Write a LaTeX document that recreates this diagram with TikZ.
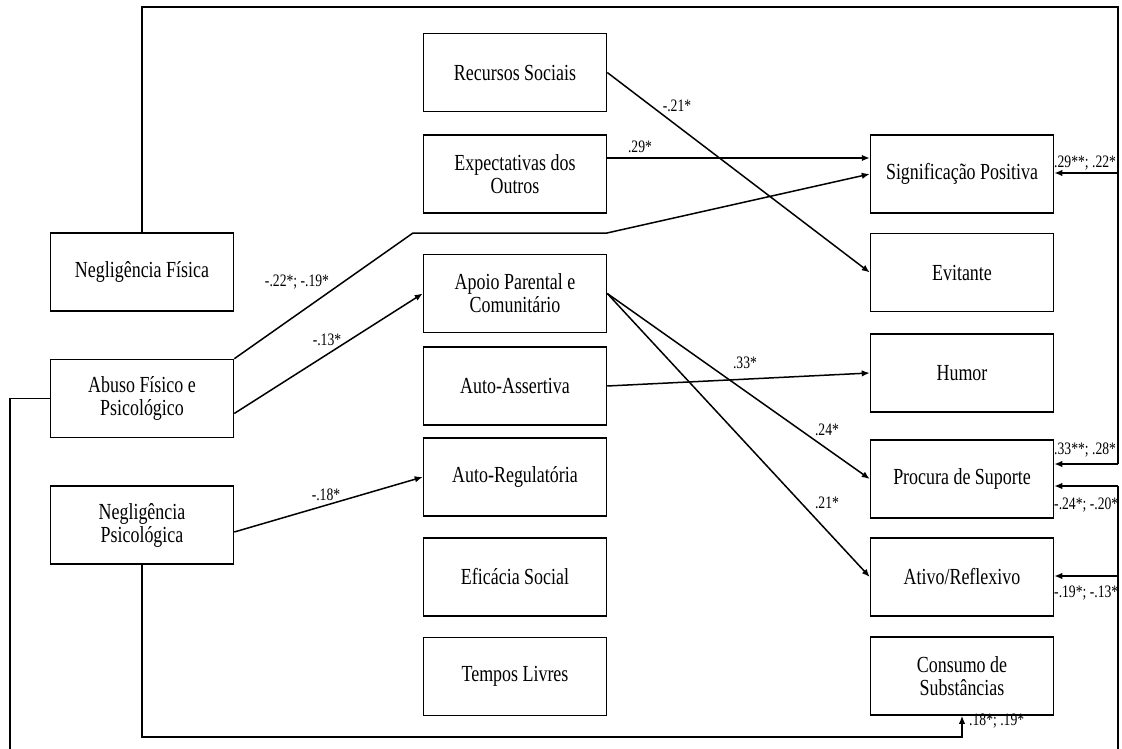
\documentclass[tikz,border=0pt]{standalone}
\usepackage{fontspec}
\setmainfont{Liberation Serif}[FakeStretch=0.78]
\usetikzlibrary{arrows.meta}
\begin{document}
\begin{tikzpicture}[x=1pt,y=-1pt,
 box/.style={draw, line width=1.5pt, minimum width=183pt, minimum height=78pt, inner sep=2pt, align=center, font=\fontsize{23}{23}\selectfont},
 lab/.style={inner sep=0pt, font=\fontsize{17.5}{19}\selectfont},
 con/.style={line width=1.5pt},
 arr/.style={con, -{Latex[length=8pt,width=6.5pt]}}]
\useasboundingbox (0,0) rectangle (1122,749);
\node[box] (NF) at (142,272) {Negligência Física};
\node[box] (AB) at (142,398.5) {Abuso Físico e\\Psicológico};
\node[box] (NP) at (142,525) {Negligência\\Psicológica};
\node[box] (RS) at (515,72.5) {Recursos Sociais};
\node[box] (EO) at (515,174) {Expectativas dos\\Outros};
\node[box] (AP) at (515,293.5) {Apoio Parental e\\Comunitário};
\node[box] (AA) at (515,386) {Auto-Assertiva};
\node[box] (AR) at (515,477) {Auto-Regulatória};
\node[box] (ES) at (515,577) {Eficácia Social};
\node[box] (TL) at (515,676.5) {Tempos Livres};
\node[box] (SP) at (962,174) {Significação Positiva};
\node[box] (EV) at (962,272.5) {Evitante};
\node[box] (HU) at (962,373) {Humor};
\node[box] (PS) at (962,479) {Procura de Suporte};
\node[box] (AT) at (962,577) {Ativo/Reflexivo};
\node[box] (CS) at (962,676) {Consumo de\\Substâncias};
% top loop from Negligencia Fisica
\coordinate (t2) at (1118,7);
\coordinate (t3) at (1118,464);
\coordinate (t4) at (1118,173);
\draw[con] (NF.north) |- (t2) -- (t3);
\draw[arr] (t3) -- (PS.east |- t3);
\draw[arr] (t4) -- (SP.east |- t4);
% loop from Abuso
\coordinate (b1) at (10,770);
\coordinate (b2) at (1118,770);
\coordinate (b3) at (1118,486);
\coordinate (b4) at (1118,576);
\draw[con] (AB.west) -| (b1) -- (b2) -- (b3);
\draw[arr] (b3) -- (PS.east |- b3);
\draw[arr] (b4) -- (AT.east |- b4);
% Negligencia Psicologica to Consumo
\coordinate (c1) at (142,737);
\draw[arr] (NP.south) -- (c1) -| (CS.south);
% direct arrows
\draw[arr] (RS.east) -- (EV.west);
\draw[arr] ([yshift=16pt]EO.east) -- ([yshift=16pt]SP.west);
\coordinate (d1) at (413,233);
\coordinate (d2) at (607,233);
\draw[arr] (AB.north east) -- (d1) -- (d2) -- (SP.west);
\draw[arr] ([yshift=-15pt]AB.east) -- (AP.west);
\draw[arr] (AP.east) -- (PS.west);
\draw[arr] (AP.east) -- (AT.west);
\draw[arr] (AA.east) -- (HU.west);
\draw[arr] ([yshift=-7pt]NP.east) -- (AR.west);
% labels
\node[lab] (l1) at (677,106) {-.21*};
\node[lab] (l2) at (640,147) {.29*};
\node[lab] (l3) at (297,282) {-.22*; -.19*};
\node[lab] (l4) at (327,340) {-.13*};
\node[lab] (l5) at (745,363) {.33*};
\node[lab] (l6) at (827,430) {.24*};
\node[lab] (l7) at (827,503) {.21*};
\node[lab] (l8) at (326,495) {-.18*};
\node[lab, anchor=west] (l9) at (1054,163) {.29**; .22*};
\node[lab, anchor=west] (l10) at (1054,450) {.33**; .28*};
\node[lab, anchor=west] (l11) at (1054,505) {-.24*; -.20*};
\node[lab, anchor=west] (l12) at (1054,593) {-.19*; -.13*};
\node[lab, anchor=west] (l13) at (969,721) {.18*; .19*};
\end{tikzpicture}
\end{document}
